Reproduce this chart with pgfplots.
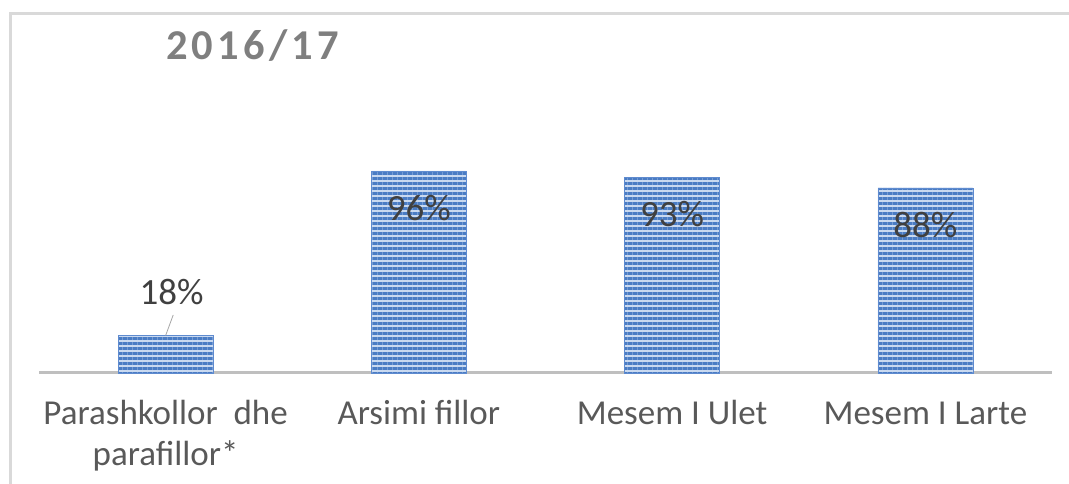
\documentclass[border=0pt]{standalone}
\usepackage{pgfplots}
\pgfplotsset{compat=1.18}
\usetikzlibrary{patterns.meta}
\usepackage{fontspec}
\setmainfont{Carlito}
\newfontfamily\titlefont[LetterSpace=10]{Carlito}
\definecolor{barblue}{HTML}{4A7CC4}
\definecolor{barlight}{HTML}{C9D9F0}
\definecolor{barline}{HTML}{5F8BCF}
\definecolor{labelgray}{HTML}{404040}
\definecolor{catgray}{HTML}{595959}
\definecolor{titlegray}{HTML}{7F7F7F}
\definecolor{framegray}{HTML}{D9D9D9}
\definecolor{axisgray}{HTML}{BFBFBF}
\pgfplotsset{barstyle/.style={draw=barline, line width=0.6pt, preaction={fill=barlight}, pattern={Lines[angle=0,distance=5pt,line width=3pt]}, pattern color=barblue}}
\begin{document}
\begin{tikzpicture}
\begin{axis}[
  scale only axis,
  width=1013pt, height=359pt,
  xmin=-0.5, xmax=3.5, ymin=0, ymax=170.6,
  enlargelimits=false,
  clip=false,
  axis y line=none,
  axis x line*=bottom,
  axis line style={draw=axisgray, line width=3pt},
  xtick={0,1,2,3},
  xticklabels={{\strut Parashkollor\ \ dhe\\\strut parafillor*},{\strut Arsimi fillor},{\strut Mesem I Ulet},{\strut Mesem I Larte}},
  major tick length=0pt,
  xticklabel style={font=\fontsize{35}{41}\selectfont, text=catgray, align=center, anchor=north, yshift=-19.6pt},
  ytick=\empty,
  /pgf/number format/assume math mode=true,
  ybar, bar width=95pt, bar shift=0pt,
  nodes near coords={\pgfmathprintnumber{\pgfplotspointmeta}\%},
]
\addplot[barstyle, every node near coord/.append style={font=\fontsize{37}{44}\selectfont, text=labelgray, anchor=center, yshift=43pt, xshift=6pt}] coordinates {(0,18)};
\addplot[barstyle, every node near coord/.append style={font=\fontsize{37}{44}\selectfont, text=labelgray, anchor=center, yshift=-37pt}] coordinates {(1,96) (2,93) (3,88)};
\draw[gray!70, line width=0.8pt] (axis cs:0,17.8) -- (axis cs:0.03,27.6);
\end{axis}
\draw[framegray, line width=3pt] (-28pt,-111pt) -- (-28pt,359pt) -- (1030pt,359pt);
\node[anchor=west, inner sep=0pt, font=\fontsize{42.5}{50}\selectfont\titlefont\bfseries, text=titlegray] at (127pt,327pt) {2016/17};
\pgfresetboundingbox
\useasboundingbox (-39pt,-111pt) rectangle (1030pt,373pt);
\end{tikzpicture}
\end{document}
